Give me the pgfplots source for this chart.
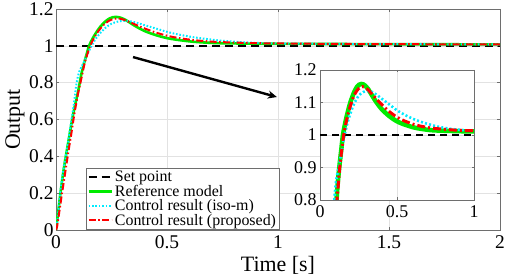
\documentclass[border=0pt]{standalone}
\usepackage{fontspec}
\setmainfont{Liberation Serif}
\usepackage{pgfplots}
\usepackage{pgfplotstable}
\pgfplotsset{compat=1.18}
\usetikzlibrary{arrows.meta}

\definecolor{refgreen}{RGB}{0,235,0}
\definecolor{isocyan}{RGB}{0,235,255}
\definecolor{gridgray}{RGB}{226,226,226}
\definecolor{axgray}{RGB}{110,110,110}

\pgfplotstableread{
t y
0 1
2 1
}\setpt

\pgfplotstableread{
t y
0 0
0.005 0.05
0.01 0.10
0.02 0.20
0.03 0.29
0.04 0.37
0.05 0.44
0.06 0.51
0.07 0.58
0.08 0.645
0.09 0.70
0.10 0.755
0.107 0.80
0.115 0.85
0.125 0.90
0.137 0.95
0.149 1.00
0.165 1.04
0.18 1.07
0.197 1.10
0.22 1.13
0.24 1.148
0.255 1.155
0.268 1.157
0.28 1.156
0.29 1.153
0.31 1.143
0.33 1.128
0.36 1.105
0.40 1.080
0.45 1.058
0.50 1.042
0.55 1.032
0.62 1.022
0.70 1.016
0.75 1.014
0.88 1.012
1.00 1.011
1.50 1.009
2.00 1.008
}\refm

\pgfplotstableread{
t y
0 0
0.005 0.04
0.01 0.09
0.019 0.20
0.03 0.30
0.04 0.37
0.05 0.44
0.06 0.52
0.07 0.60
0.08 0.68
0.093 0.80
0.105 0.86
0.121 0.90
0.14 0.95
0.16 1.00
0.18 1.04
0.20 1.07
0.225 1.10
0.25 1.12
0.28 1.132
0.313 1.136
0.34 1.132
0.37 1.123
0.40 1.112
0.45 1.094
0.50 1.076
0.55 1.062
0.623 1.046
0.70 1.034
0.753 1.027
0.82 1.021
0.883 1.017
1.00 1.013
1.20 1.011
1.50 1.009
2.00 1.008
}\iso

\pgfplotstableread{
t y
0 0
0.005 0.02
0.01 0.06
0.015 0.10
0.02 0.14
0.027 0.20
0.035 0.26
0.045 0.34
0.057 0.434
0.07 0.53
0.08 0.61
0.09 0.68
0.10 0.745
0.11 0.80
0.12 0.855
0.128 0.90
0.14 0.95
0.154 1.00
0.17 1.04
0.185 1.07
0.204 1.10
0.22 1.12
0.24 1.137
0.26 1.146
0.275 1.149
0.29 1.147
0.31 1.140
0.33 1.130
0.36 1.114
0.40 1.094
0.45 1.072
0.50 1.055
0.55 1.043
0.62 1.031
0.70 1.023
0.75 1.020
0.88 1.015
1.00 1.013
1.20 1.011
1.50 1.009
2.00 1.008
}\prop

\begin{document}
\begin{tikzpicture}[x=1bp,y=1bp]
\path[use as bounding box] (0,0) rectangle (523,277);
\begin{axis}[
  at={(56bp,47bp)}, anchor=south west,
  scale only axis, width=444bp, height=221bp,
  xmin=0, xmax=2, ymin=0, ymax=1.2,
  xtick={0,0.5,1,1.5,2}, ytick={0,0.2,0.4,0.6,0.8,1,1.2},
  /pgf/number format/assume math mode=true,
  /pgf/number format/fixed,
  grid=major, major grid style={gridgray, line width=0.6bp},
  tick align=inside, major tick length=3bp,
  tick style={axgray, line width=0.6bp},
  axis line style={axgray, line width=0.6bp},
  ticklabel style={font=\fontsize{19.5}{19.5}\selectfont, text=black},
  xticklabel style={yshift=-2bp},
  yticklabel style={xshift=1bp},
  xlabel={Time [s]}, ylabel={Output},
  label style={font=\fontsize{22}{22}\selectfont},
  xlabel style={at={(axis description cs:0.5,-0.158)}, anchor=center},
  ylabel style={at={(axis description cs:-0.0923,0.5)}, anchor=center},
  legend cell align=left,
  legend image code/.code={\draw[#1] (0bp,0bp) -- (23bp,0bp);},
  legend style={at={(rel axis cs:0.0676,0)}, anchor=south west,
    font=\fontsize{16}{16}\selectfont, draw=axgray, line width=0.6bp,
    inner xsep=1bp, inner ysep=1bp, row sep=-2bp, fill=white},
]
\addplot[black, line width=1.6bp, dash pattern=on 8bp off 5bp] table[x=t,y=y] {\setpt};
\addlegendentry{Set point}
\addplot[refgreen, line width=2.6bp, smooth] table[x=t,y=y] {\refm};
\addlegendentry{Reference model}
\addplot[isocyan, line width=2bp, dash pattern=on 1.6bp off 1.8bp, smooth] table[x=t,y=y] {\iso};
\addlegendentry{Control result (iso-m)}
\addplot[red, line width=2bp, dash pattern=on 7bp off 2.5bp on 1.5bp off 2.5bp, smooth] table[x=t,y=y] {\prop};
\addlegendentry{Control result (proposed)}
\draw[black, line width=2.4bp, -{Stealth[length=9bp,width=8bp]}] (axis cs:0.347,0.939) -- (axis cs:0.995,0.722);
\end{axis}
\begin{axis}[
  at={(320bp,77bp)}, anchor=south west,
  scale only axis, width=154bp, height=130bp,
  xmin=0, xmax=1, ymin=0.8, ymax=1.2,
  xtick={0,0.5,1}, ytick={0.8,0.9,1,1.1,1.2},
  /pgf/number format/assume math mode=true,
  /pgf/number format/fixed,
  axis background/.style={fill=white},
  grid=major, major grid style={gridgray, line width=0.6bp},
  tick align=inside, major tick length=2.5bp,
  tick style={axgray, line width=0.6bp},
  axis line style={axgray, line width=0.6bp},
  ticklabel style={font=\fontsize{18}{18}\selectfont, text=black},
  xticklabel style={yshift=-2.5bp},
  yticklabel style={xshift=0bp},
]
\addplot[black, line width=1.6bp, dash pattern=on 7bp off 5bp] table[x=t,y=y] {\setpt};
\addplot[refgreen, line width=4.5bp, smooth] table[x=t,y=y] {\refm};
\addplot[isocyan, line width=2.6bp, dash pattern=on 2bp off 2.2bp, smooth] table[x=t,y=y] {\iso};
\addplot[red, line width=3bp, dash pattern=on 8bp off 3bp on 2bp off 3bp, smooth] table[x=t,y=y] {\prop};
\end{axis}
\end{tikzpicture}
\end{document}
